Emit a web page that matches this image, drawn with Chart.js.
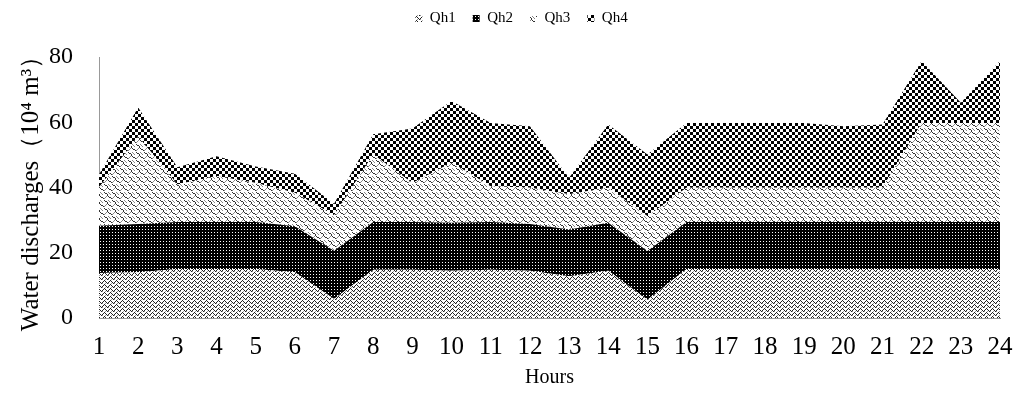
<!DOCTYPE html>
<html>
<head>
<meta charset="utf-8">
<script src="https://cdn.jsdelivr.net/npm/chart.js@4.4.1/dist/chart.umd.min.js"></script>
<style>
  html, body { margin: 0; padding: 0; background: #fff; }
  #wrap { width: 1013px; height: 404px; }
</style>
</head>
<body>
<div id="wrap"><canvas id="grafica"></canvas></div>
<script>
// datos (10^4 m3)
const horas = ['1','2','3','4','5','6','7','8','9','10','11','12','13','14','15','16','17','18','19','20','21','22','23','24'];
const qh1 = [13.8, 14, 15, 15, 15, 14, 5.8, 14.8, 14.8, 14.5, 14.8, 14.5, 12.8, 14.5, 5.6, 15, 15, 15, 15, 15, 15, 15, 15, 15];
const qh2 = [14.5, 14.8, 14.4, 14.4, 14.4, 14.1, 14.8, 14.6, 14.6, 14.7, 14.6, 14.3, 14.3, 14.7, 14.9, 14.4, 14.4, 14.4, 14.4, 14.4, 14.4, 14.4, 14.4, 14.4];
const qh3 = [11.7, 26.9, 11.5, 14.1, 12, 10.3, 10.9, 20.7, 12, 18.4, 11, 11.1, 10.8, 10.7, 10.7, 10.5, 10.5, 10.5, 10.5, 10.5, 10.5, 30.4, 30.4, 30.4];
const qh4 = [4, 8.8, 5.3, 6.1, 5, 5.8, 3.5, 6.2, 16.7, 18.9, 19.4, 18.9, 5.1, 19.4, 18.9, 19.9, 19.9, 19.9, 19.9, 18.9, 19.4, 19, 6.2, 19];
const yTicks = [0, 20, 40, 60, 80];

const fuente = "'Liberation Serif', 'Times New Roman', serif";

// patrones de relleno en blanco y negro
function crearPatron(w, h, dibujar) {
    const c = document.createElement('canvas');
    c.width = w;
    c.height = h;
    const ctx = c.getContext('2d');
    ctx.fillStyle = '#fff';
    ctx.fillRect(0, 0, w, h);
    dibujar(ctx);
    return document.getElementById('grafica').getContext('2d').createPattern(c, 'repeat');
}

const patronQh1 = crearPatron(6, 4, (ctx) => {
    ctx.fillStyle = '#222';
    // zigzag fino
    [[0,2],[1,1],[2,0],[3,1],[4,2],[5,3]].forEach(p => ctx.fillRect(p[0], p[1], 1, 1));
    ctx.fillStyle = '#999';
    [[0,3],[3,3]].forEach(p => ctx.fillRect(p[0], p[1], 1, 1));
});

const patronQh2 = crearPatron(3, 3, (ctx) => {
    ctx.fillStyle = '#000';
    ctx.fillRect(0, 0, 3, 3);
    ctx.fillStyle = '#fff';
    ctx.fillRect(1, 1, 1, 1);
});

const patronQh3 = crearPatron(8, 8, (ctx) => {
    ctx.fillStyle = '#333';
    [[0,0],[1,1],[2,1],[3,2],[3,3],[4,4],[5,5],[6,5],[7,6]].forEach(p => ctx.fillRect(p[0], p[1], 1, 1));
    ctx.fillStyle = '#888';
    [[4,0],[5,1],[6,2],[1,5],[0,6],[2,4]].forEach(p => ctx.fillRect(p[0], p[1], 1, 1));
});

const patronQh4 = crearPatron(6, 6, (ctx) => {
    ctx.fillStyle = '#000';
    ctx.fillRect(0, 0, 3, 3);
    ctx.fillRect(3, 3, 3, 3);
});

const serie = (label, data, patron, fill) => ({
    label: label,
    data: data,
    backgroundColor: patron,
    borderColor: 'rgba(0,0,0,0)',
    borderWidth: 0,
    pointRadius: 0,
    tension: 0,
    fill: fill
});

const data = {
    labels: horas,
    datasets: [
        serie('Qh1', qh1, patronQh1, 'origin'),
        serie('Qh2', qh2, patronQh2, '-1'),
        serie('Qh3', qh3, patronQh3, '-1'),
        serie('Qh4', qh4, patronQh4, '-1')
    ]
};

// mueve la leyenda un poco (arriba y a la derecha) como en el original
const moverLeyenda = {
    id: 'moverLeyenda',
    afterLayout(chart) {
        const lg = chart.legend;
        lg.left += 15;
        lg.right += 15;
        lg.top -= 21;
        lg.bottom -= 21;
    }
};

new Chart('grafica', {
    type: 'line',
    data: data,
    plugins: [moverLeyenda],
    options: {
        responsive: true,
        maintainAspectRatio: false,
        animation: false,
        layout: {
            padding: { left: 0, right: 0, top: 15, bottom: 0 }
        },
        plugins: {
            legend: {
                position: 'top',
                labels: {
                    font: { family: fuente, size: 15 },
                    color: '#000',
                    boxWidth: 7,
                    boxHeight: 7,
                    padding: 17
                }
            },
            tooltip: { enabled: false }
        },
        scales: {
            x: {
                offset: false,
                grid: { display: false, drawTicks: true, tickLength: 6, tickColor: '#999' },
                border: { color: '#999' },
                ticks: {
                    font: { family: fuente, size: 25 },
                    color: '#000',
                    padding: 8,
                    maxRotation: 0,
                    autoSkip: false
                },
                title: {
                    display: true,
                    text: 'Hours',
                    font: { family: fuente, size: 20 },
                    color: '#000',
                    padding: { top: 4, bottom: 14 }
                },
                afterFit: (s) => {
                    s.height = 86;
                    s.paddingRight = 13;
                }
            },
            y: {
                stacked: true,
                min: 0,
                max: 80,
                afterBuildTicks: (s) => { s.ticks = yTicks.map(v => ({ value: v })); },
                grid: { display: false, drawTicks: true, tickLength: 4, tickColor: '#999' },
                border: { color: '#999' },
                ticks: {
                    font: { family: fuente, size: 24 },
                    color: '#000',
                    padding: 22
                },
                title: {
                    display: true,
                    text: 'Water discharges（10⁴ m³）',
                    font: { family: fuente, size: 25 },
                    color: '#000',
                    padding: { top: 16, bottom: 0 }
                },
                afterFit: (s) => { s.width = 99; }
            }
        }
    }
});
</script>
</body>
</html>
